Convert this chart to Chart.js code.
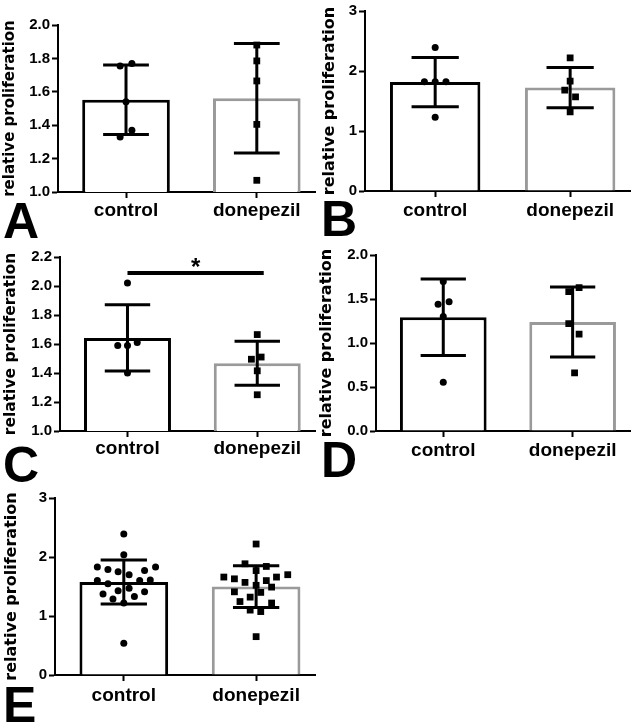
<!DOCTYPE html>
<html><head><meta charset="utf-8">
<script src="https://cdn.jsdelivr.net/npm/chart.js@4.4.1/dist/chart.umd.min.js"></script>
<style>
html,body{margin:0;padding:0;background:#fff;width:635px;height:726px;overflow:hidden;position:relative}
canvas{position:absolute;left:0;top:0}
.lt{position:absolute;font-family:"Liberation Sans",Arial,sans-serif;font-weight:bold;font-size:50px;line-height:50px;color:#000}
</style></head><body>
<canvas id="cA" width="635" height="726"></canvas>
<canvas id="cB" width="635" height="726"></canvas>
<canvas id="cC" width="635" height="726"></canvas>
<canvas id="cD" width="635" height="726"></canvas>
<canvas id="cE" width="635" height="726"></canvas>
<div class="lt" style="left:3px;top:196px">A</div>
<div class="lt" style="left:321px;top:194px">B</div>
<div class="lt" style="left:3px;top:440px">C</div>
<div class="lt" style="left:321px;top:435px">D</div>
<div class="lt" style="left:3px;top:680px">E</div>
<script>
const categories = ['control', 'donepezil'];

// Panel A
const aTickLabels = ['1.0', '1.2', '1.4', '1.6', '1.8', '2.0'];
const aMeans = [1.553, 1.561];
const aSD = [0.208, 0.328];
const aControl = [1.755, 1.77, 1.54, 1.37, 1.33];
const aControlJitter = [-0.045, 0.045, 0, 0.045, -0.045];
const aDonepezil = [1.88, 1.785, 1.665, 1.405, 1.07];
const aDonepezilJitter = [0, 0, 0, 0, 0];

// Panel B
const bTickLabels = ['0', '1', '2', '3'];
const bMeans = [1.816, 1.724];
const bSD = [0.41, 0.335];
const bControl = [2.39, 1.82, 1.82, 1.82, 1.23];
const bControlJitter = [0, -0.08, 0, 0.08, 0];
const bDonepezil = [2.22, 1.83, 1.68, 1.57, 1.32];
const bDonepezilJitter = [0, 0, -0.04, 0.04, 0];

// Panel C
const cTickLabels = ['1.0', '1.2', '1.4', '1.6', '1.8', '2.0', '2.2'];
const cMeans = [1.642, 1.467];
const cSD = [0.228, 0.152];
const cControl = [2.02, 1.59, 1.59, 1.61, 1.40];
const cControlJitter = [0, -0.075, 0, 0.075, 0];
const cDonepezil = [1.665, 1.495, 1.51, 1.415, 1.25];
const cDonepezilJitter = [0, -0.045, 0.03, 0, 0];
const cSignificance = [{ from: 0, to: 1.05, y: 2.09, text: '*' }];

// Panel D
const dTickLabels = ['0.0', '0.5', '1.0', '1.5', '2.0'];
const dMeans = [1.293, 1.239];
const dSD = [0.435, 0.398];
const dControl = [1.70, 1.44, 1.47, 1.30, 0.553];
const dControlJitter = [0, -0.04, 0.045, 0, 0];
const dDonepezil = [1.585, 1.63, 1.22, 1.10, 0.66];
const dDonepezilJitter = [-0.03, 0.05, -0.03, 0.05, 0.015];

// Panel E
const eTickLabels = ['0', '1', '2', '3'];
const eMeans = [1.576, 1.498];
const eSD = [0.372, 0.352];
const eControl = [2.39, 2.04, 1.83, 1.79, 1.75, 1.70, 1.77, 1.83, 1.60, 1.545, 1.60, 1.61, 1.375, 1.29, 1.43, 1.47, 1.33, 1.41, 1.22, 0.54];
const eControlJitter = [0, 0, -0.2, -0.12, -0.043, 0.04, 0.157, 0.24, -0.2, -0.12, 0.12, 0.2, -0.157, -0.082, -0.043, 0.04, 0.08, 0.157, 0, 0];
const eDonepezil = [2.22, 1.885, 1.84, 1.77, 1.66, 1.63, 1.57, 1.60, 1.66, 1.70, 1.52, 1.49, 1.41, 1.40, 1.32, 1.245, 1.22, 1.10, 1.075, 0.65];
const eDonepezilJitter = [0, -0.084, 0.077, 0, -0.244, -0.164, -0.084, 0.077, 0.154, 0.239, 0, 0.117, -0.164, 0.035, -0.045, -0.122, 0.117, -0.045, 0.035, 0];

// Layout (pixel geometry per panel)
const W = 635, H = 726, XAXIS_H = 45;
const layoutA = { left: 1.5, axisX: 58, right: 315, top: 25, bottom: 192, titleSize: 15, labelPad: 1 };
const layoutB = { left: 320, axisX: 365, right: 635, top: 10, bottom: 191, titleSize: 16, labelPad: 2 };
const layoutC = { left: 2, axisX: 60, right: 315, top: 257, bottom: 431, titleSize: 15.5, labelPad: 0 };
const layoutD = { left: 317.5, axisX: 376, right: 635, top: 255, bottom: 431, titleSize: 16, labelPad: 2 };
const layoutE = { left: 2, axisX: 55, right: 315, top: 498, bottom: 675, titleSize: 16, labelPad: 3 };

function errPlugin(means, sd, sig) {
  return {
    id: 'errbars',
    afterDatasetsDraw(chart) {
      const { ctx } = chart; const x = chart.scales.x, y = chart.scales.y;
      ctx.save();
      ctx.strokeStyle = '#000'; ctx.lineWidth = 3; ctx.lineCap = 'butt';
      means.forEach((m, i) => {
        const xc = x.getPixelForValue(i);
        const hw = x.getPixelForValue(i + 0.175) - xc;
        const yt = y.getPixelForValue(m + sd[i]);
        const yb = y.getPixelForValue(m - sd[i]);
        ctx.beginPath();
        ctx.moveTo(xc, yt); ctx.lineTo(xc, yb);
        ctx.moveTo(xc - hw, yt); ctx.lineTo(xc + hw, yt);
        ctx.moveTo(xc - hw, yb); ctx.lineTo(xc + hw, yb);
        ctx.stroke();
      });
      (sig || []).forEach(s => {
        const x0 = x.getPixelForValue(s.from), x1 = x.getPixelForValue(s.to);
        const yy = y.getPixelForValue(s.y);
        ctx.lineWidth = 4;
        ctx.beginPath(); ctx.moveTo(x0, yy); ctx.lineTo(x1, yy); ctx.stroke();
        ctx.fillStyle = '#000';
        ctx.font = 'bold 24px "Liberation Sans", Arial, sans-serif';
        ctx.textAlign = 'center'; ctx.textBaseline = 'alphabetic';
        ctx.fillText(s.text, (x0 + x1) / 2, yy + 2);
      });
      ctx.restore();
    }
  };
}

function makeChart(id, lay, tickLabels, means, sd, ctrl, ctrlJ, done, doneJ, sig) {
  const tickVals = tickLabels.map(parseFloat);
  const yGrid = { drawOnChartArea: false, drawTicks: true, tickLength: 6, tickWidth: 2, tickColor: '#000', offset: false };
  const xGrid = { drawOnChartArea: false, drawTicks: true, tickLength: 6, tickWidth: 2, tickColor: '#000', offset: false };
  new Chart(document.getElementById(id), {
    type: 'bar',
    data: {
      datasets: [
        { type: 'scatter', data: ctrl.map((v, k) => ({ x: 0 + ctrlJ[k], y: v })), pointStyle: 'circle', pointRadius: 3.5, backgroundColor: '#000', borderWidth: 0, order: 0 },
        { type: 'scatter', data: done.map((v, k) => ({ x: 1 + doneJ[k], y: v })), pointStyle: 'rect', pointRadius: 4.8, backgroundColor: '#000', borderWidth: 0, order: 0 },
        { type: 'bar', data: means.map((m, i) => ({ x: i, y: m })), backgroundColor: '#fff', borderColor: ['#000', '#9a9a9a'], borderWidth: 3, categoryPercentage: 0.67, barPercentage: 1, order: 1 }
      ]
    },
    options: {
      responsive: false, animation: false, devicePixelRatio: 1, events: [],
      layout: { padding: { left: lay.left, right: W - lay.right, top: lay.top, bottom: H - lay.bottom - XAXIS_H } },
      plugins: { legend: { display: false }, tooltip: { enabled: false } },
      scales: {
        x: {
          type: 'linear', min: -0.52, max: 1.445, bounds: 'data', offset: false,
          afterBuildTicks: s => { s.ticks = categories.map((c, i) => ({ value: i })); },
          ticks: { callback: (v) => categories[v], autoSkip: false, maxRotation: 0, color: '#000', padding: lay.labelPad,
            font: { family: '"Liberation Sans", Arial, sans-serif', size: 19, weight: 'bold' } },
          grid: xGrid,
          border: { color: '#000', width: 2 },
          afterFit: s => { s.height = XAXIS_H; }
        },
        y: {
          type: 'linear', min: tickVals[0], max: tickVals[tickVals.length - 1], bounds: 'data',
          afterBuildTicks: s => { s.ticks = tickVals.map(v => ({ value: v })); },
          ticks: { callback: (v, i) => tickLabels[i], color: '#000', padding: 2,
            font: { family: '"Liberation Sans", Arial, sans-serif', size: 15, weight: 'bold' } },
          grid: yGrid,
          border: { color: '#000', width: 2 },
          title: { display: true, text: 'relative proliferation', color: '#000', padding: { top: 0, bottom: 0 },
            font: { family: '"DejaVu Sans", sans-serif', size: lay.titleSize, weight: 'bold' } },
          afterFit: s => { s.width = lay.axisX - lay.left; }
        }
      }
    },
    plugins: [errPlugin(means, sd, sig)]
  });
}

makeChart('cA', layoutA, aTickLabels, aMeans, aSD, aControl, aControlJitter, aDonepezil, aDonepezilJitter, null);
makeChart('cB', layoutB, bTickLabels, bMeans, bSD, bControl, bControlJitter, bDonepezil, bDonepezilJitter, null);
makeChart('cC', layoutC, cTickLabels, cMeans, cSD, cControl, cControlJitter, cDonepezil, cDonepezilJitter, cSignificance);
makeChart('cD', layoutD, dTickLabels, dMeans, dSD, dControl, dControlJitter, dDonepezil, dDonepezilJitter, null);
makeChart('cE', layoutE, eTickLabels, eMeans, eSD, eControl, eControlJitter, eDonepezil, eDonepezilJitter, null);
</script>
</body></html>
